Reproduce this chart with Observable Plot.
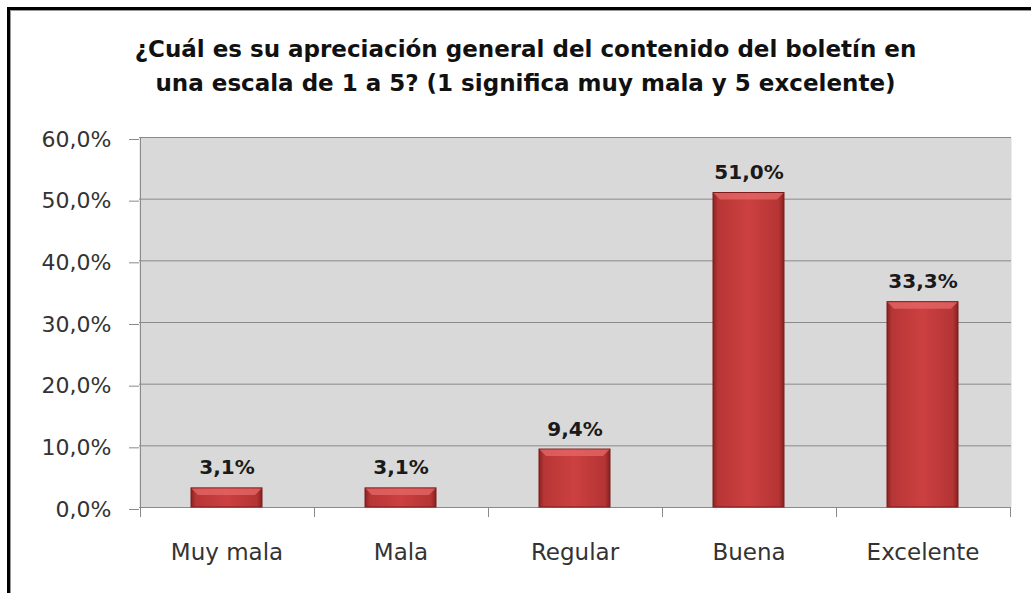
<!DOCTYPE html>
<html>
<head>
<meta charset="utf-8">
<script src="https://cdn.jsdelivr.net/npm/d3@7"></script>
<script src="https://cdn.jsdelivr.net/npm/@observablehq/plot@0.6"></script>
<style>
  html, body { margin: 0; padding: 0; background: #fff; }
  body { width: 1031px; height: 593px; overflow: hidden; position: relative; }
  #frame { position: absolute; left: 7px; top: 7px; width: 1100px; height: 700px;
           border-top: 3px solid #000; border-left: 3px solid #000;
           box-shadow: inset 1px 1px 0 #999; pointer-events: none; }
  #title { box-sizing: border-box; width: 1031px; height: 120px; padding-top: 32px; padding-left: 20px;
           text-align: center; font-family: "DejaVu Sans", sans-serif; font-weight: bold;
           font-size: 23px; line-height: 34px; color: #111; white-space: nowrap; }
  #chart svg { display: block; }
</style>
</head>
<body>
<div id="title">¿Cuál es su apreciación general del contenido del boletín en<br>una escala de 1 a 5? (1 significa muy mala y 5 excelente)</div>
<div id="chart"></div>
<div id="frame"></div>
<script>
const categories = ["Muy mala", "Mala", "Regular", "Buena", "Excelente"];
const values = [3.1, 3.1, 9.4, 51.0, 33.3];
const yTicks = [0, 10, 20, 30, 40, 50, 60];

const data = categories.map((c, i) => ({category: c, value: values[i]}));
const fmt = d => d.toFixed(1).replace(".", ",") + "%";

const chart = Plot.plot({
  width: 1031,
  height: 473,
  marginLeft: 139,
  marginRight: 20,
  marginTop: 17,
  marginBottom: 86,
  style: {fontFamily: "DejaVu Sans, sans-serif", background: "transparent", overflow: "visible"},
  x: {domain: categories, paddingInner: 0.59, paddingOuter: 0.295, label: null},
  y: {domain: [0, 60], label: null},
  marks: [
    Plot.frame({fill: "#d9d9d9", stroke: null}),
    Plot.gridY(yTicks, {stroke: "#8a8a8a", strokeOpacity: 1}),
    Plot.axisY(yTicks, {tickSize: 10, tickPadding: 18, fontSize: 22, stroke: "#8a8a8a", fill: "#333", tickFormat: fmt, dy: 2}),
    Plot.axisX({tickSize: 0, tickPadding: 36, fontSize: 23, fill: "#333"}),
    Plot.barY(data, {x: "category", y: "value", fill: "url(#barGrad)", stroke: "#7d1c1c", strokeWidth: 1}),
    Plot.text(data, {x: "category", y: "value", text: d => fmt(d.value), lineAnchor: "bottom", dy: -14,
                     fontSize: 20, fontWeight: "bold", fill: "#1a1a1a"})
  ]
});
document.getElementById("chart").appendChild(chart);

// gradients
const svg = d3.select(chart);
const defs = svg.insert("defs", ":first-child");
const g1 = defs.append("linearGradient").attr("id", "barGrad").attr("x1", 0).attr("x2", 1).attr("y1", 0).attr("y2", 0);
[[0, "#8c2222"], [0.07, "#b83636"], [0.5, "#cc4040"], [0.93, "#b53434"], [1, "#862020"]]
  .forEach(([o, c]) => g1.append("stop").attr("offset", o).attr("stop-color", c));

// top bevel on each bar
const bev = svg.append("g");
svg.selectAll("rect").each(function() {
  const r = d3.select(this);
  if (r.attr("fill") !== "url(#barGrad)" && this.parentNode.getAttribute("fill") !== "url(#barGrad)") return;
  const x = +r.attr("x"), y = +r.attr("y"), w = +r.attr("width"), h = +r.attr("height");
  const b = Math.min(7, h / 2);
  bev.append("polygon")
    .attr("points", `${x+0.5},${y+0.5} ${x+w-0.5},${y+0.5} ${x+w-b},${y+b} ${x+b},${y+b}`)
    .attr("fill", "#e46565").attr("fill-opacity", 0.8);
});

// category boundary ticks and left axis line, from the scales
const sx = chart.scale("x"), sy = chart.scale("y");
const step = sx.step;
const x0 = sx.apply(categories[0]) - sx.paddingOuter * step;
const y0 = sy.apply(0), yTop = sy.apply(60);
const decor = svg.append("g").attr("stroke", "#8a8a8a").attr("stroke-width", 1);
for (let i = 0; i <= categories.length; i++) {
  const xx = Math.round(x0 + i * step) + 0.5;
  decor.append("line").attr("x1", xx).attr("x2", xx).attr("y1", i === 0 ? yTop : y0).attr("y2", y0 + 10);
}
</script>
</body>
</html>
